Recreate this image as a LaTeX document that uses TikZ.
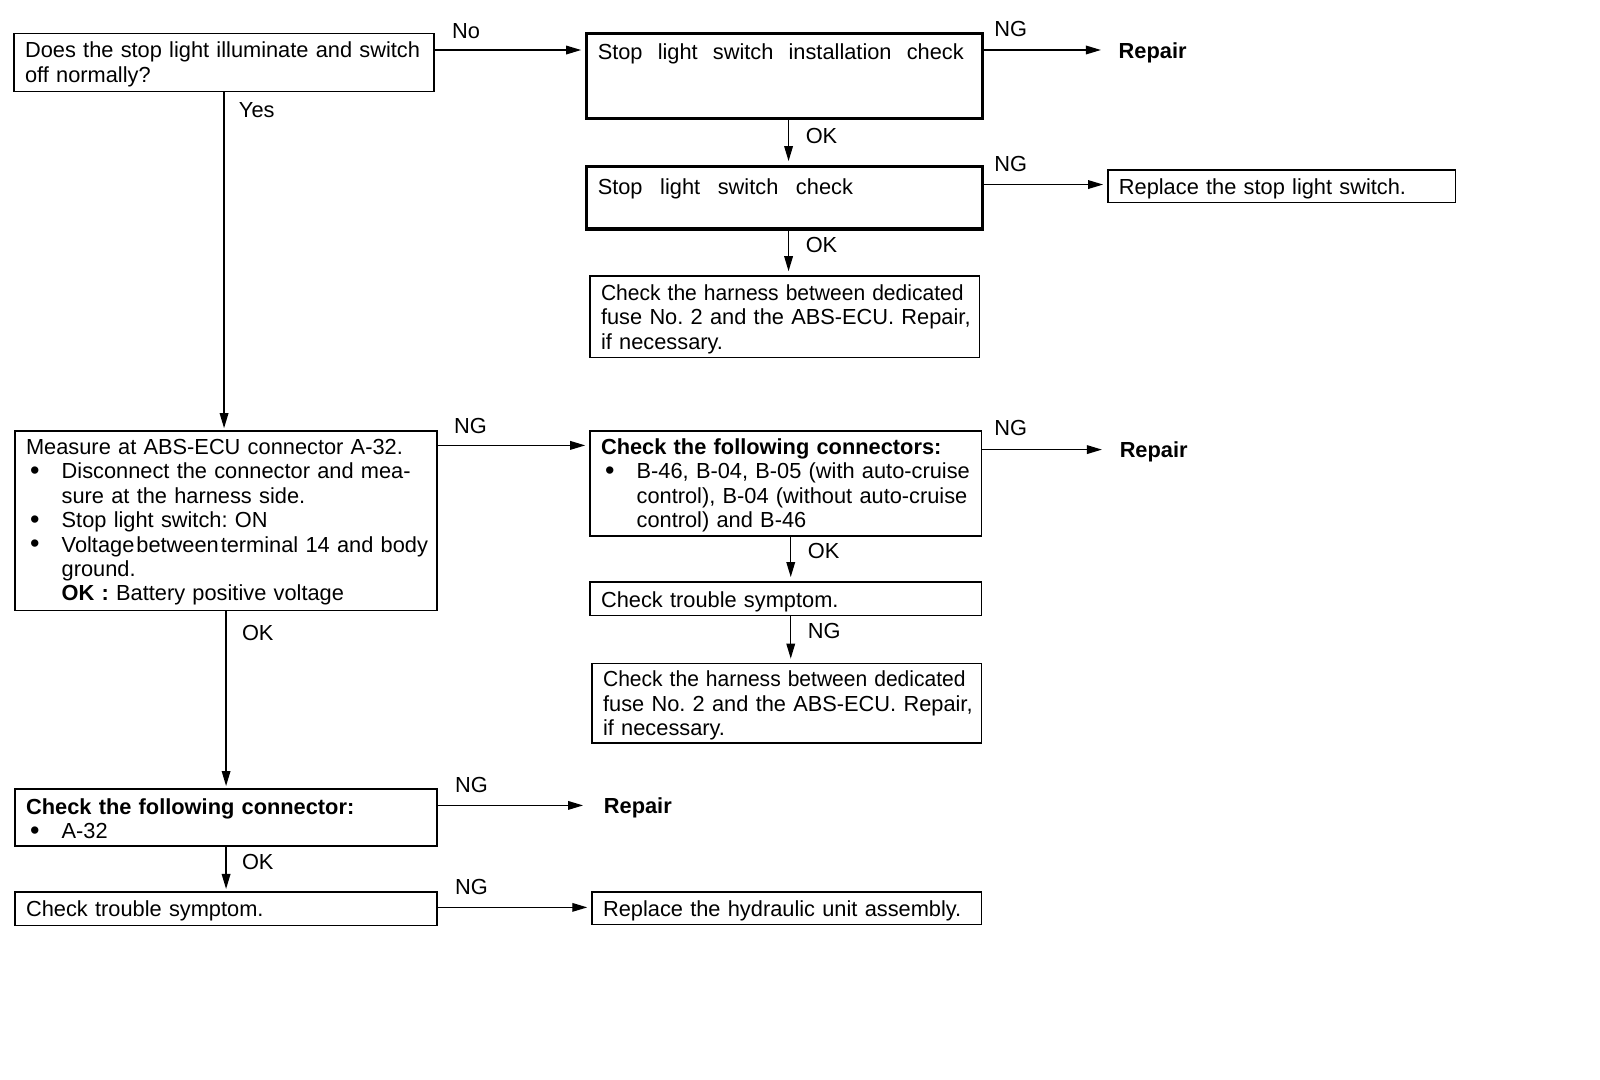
\documentclass[tikz,border=0pt]{standalone}
\usepackage{fontspec}
\usepackage{graphicx}
\setmainfont{Liberation Sans}
\usetikzlibrary{arrows.meta}
\setlength{\parindent}{0pt}
\frenchspacing
\newcommand{\jl}[1]{\leavevmode\hbox to\linewidth{#1}}
\newcommand{\sqz}[1]{\leavevmode\scalebox{0.965}[1]{#1}}
\newcommand{\bul}{\makebox[17.8pt][l]{\hspace{2pt}\raisebox{-0.3pt}{\fontsize{13.5pt}{12pt}\selectfont •}}}
\newcommand{\ind}{\hspace*{17.8pt}}
\begin{document}
\begin{tikzpicture}[x=0.5097pt,y=-0.5097pt,
  every node/.style={font=\fontsize{10.9pt}{12.2pt}\selectfont},
  box/.style n args={3}{draw, line width=0.8pt, anchor=north west, inner xsep=5.5pt, inner ysep=0pt, align=left, text width=#1, text height=#2, text depth=#3},
  lbl/.style={inner sep=0pt, anchor=west, text height=7.8pt, text depth=0pt},
  rep/.style={lbl, font=\fontsize{10.9pt}{12.2pt}\selectfont\bfseries},
  arr/.style={line width=0.7pt, -{Triangle[length=7.5pt,width=4.3pt]}, shorten >=2pt}]
\fill[white] (0,0) rectangle (1569.5,1059.4);
\useasboundingbox (0,0) rectangle (1569.5,1059.4);

% boxes
\node[box={199pt}{12.2pt}{16.85pt}] (b1) at (13,32) {Does the stop light illuminate and switch\\off normally?};
\node[box={186.8pt}{13.25pt}{29.55pt}, line width=1.6pt] (b2) at (574,31) {\hbox to 183pt{Stop\hfill light\hfill switch\hfill installation\hfill check}};
\node[box={186.8pt}{13.75pt}{17.35pt}, line width=1.6pt] (b3) at (574,162) {\hbox to 127.6pt{Stop\hfill light\hfill switch\hfill check}};
\node[box={183.7pt}{12.2pt}{28.6pt}] (b4) at (578,270) {\sqz{Check the harness between dedicated}\\\jl{fuse No. 2 and the ABS-ECU. Repair,}\\if necessary.};
\node[box={200pt}{11.7pt}{78pt}] (b5) at (14,422) {\leavevmode\hbox to 194pt{Measure at ABS-ECU connector A-32.}\\
\jl{\bul Disconnect the connector and mea-}\\
\ind sure at the harness side.\\
\bul Stop light switch: ON\\
\jl{\bul Voltage\hspace{1pt}between\hspace{1pt}terminal 14 and body}\\
\ind ground.\\
\ind\textbf{OK :} Battery positive voltage};
\node[box={184.7pt}{11.7pt}{40.8pt}] (b6) at (578,422) {\textbf{Check the following connectors:}\\
\jl{\bul B-46, B-04, B-05 (with auto-cruise}\\
\jl{\ind control), B-04 (without auto-cruise}\\
\ind control) and B-46};
\node[box={184.7pt}{12.7pt}{4.1pt}] (b7) at (578,570) {Check trouble symptom.};
\node[box={183.7pt}{11.7pt}{28.1pt}] (b8) at (580,650) {\sqz{Check the harness between dedicated}\\\jl{fuse No. 2 and the ABS-ECU. Repair,}\\if necessary.};
\node[box={200pt}{12.7pt}{15.8pt}] (b9) at (14,773) {\textbf{Check the following connector:}\\\bul A-32};
\node[box={200pt}{12.2pt}{4.6pt}] (b10) at (14,874) {Check trouble symptom.};
\node[box={183.7pt}{12.2pt}{4.1pt}] (b11) at (580,874) {Replace the hydraulic unit assembly.};
\node[box={162.8pt}{12.2pt}{4.1pt}] (brep) at (1086,166) {Replace the stop light switch.};

\node[rep] (r1) at (1097,50) {Repair};
\node[rep] (r2) at (1098,441) {Repair};
\node[rep] (r3) at (592,790) {Repair};

% connectors
\coordinate (p1) at ([yshift=-8.7pt]b1.north east);
\draw[arr] (p1) -- (p1 -| b2.west);
\node[lbl] (l1) at (443,30) {No};

\coordinate (p2) at ([yshift=-9.2pt]b2.north east);
\draw[arr, shorten >=8.7pt] (p2) -- (p2 -| r1.west);
\node[lbl] (l2) at (975,28) {NG};

\coordinate (p3) at ([xshift=2pt]b2.south);
\draw[arr] (p3) -- (p3 |- b3.north);
\node[lbl] (l3) at (790,133) {OK};

\coordinate (p4) at ([yshift=-9.7pt]b3.north east);
\draw[arr] (p4) -- (p4 -| brep.west);
\node[lbl] (l4) at (975,161) {NG};

\coordinate (p5) at ([xshift=2pt]b3.south);
\draw[arr] (p5) -- (p5 |- b4.north);
\node[lbl] (l5) at (790,240) {OK};

\coordinate (p6) at (b1.south);
\draw[arr, shorten >=1pt] (p6) -- (p6 |- b5.north);
\node[lbl] (l6) at (234,108) {Yes};

\coordinate (p7) at ([yshift=-7.6pt]b5.north east);
\draw[arr] (p7) -- (p7 -| b6.west);
\node[lbl] (l7) at (445,418) {NG};

\coordinate (p8) at ([yshift=-9.7pt]b6.north east);
\draw[arr, shorten >=8.7pt] (p8) -- (p8 -| r2.west);
\node[lbl] (l8) at (975,420) {NG};

\coordinate (p9) at ([xshift=2.5pt]b6.south);
\draw[arr] (p9) -- (p9 |- b7.north);
\node[lbl] (l9) at (792,540) {OK};

\coordinate (p10) at ([xshift=2.5pt]b7.south);
\draw[arr] (p10) -- (p10 |- b8.north);
\node[lbl] (l10) at (792,619) {NG};

\coordinate (p11) at (b5.south);
\draw[arr, shorten >=1pt] (p11) -- (p11 |- b9.north);
\node[lbl] (l11) at (237,621) {OK};

\coordinate (p12) at ([yshift=-8.7pt]b9.north east);
\draw[arr, shorten >=10.2pt] (p12) -- (p12 -| r3.west);
\node[lbl] (l12) at (446,770) {NG};

\coordinate (p13) at (b9.south);
\draw[arr, shorten >=1pt] (p13) -- (p13 |- b10.north);
\node[lbl] (l13) at (237,845) {OK};

\coordinate (p14) at ([yshift=-8.2pt]b10.north east);
\draw[arr] (p14) -- (p14 -| b11.west);
\node[lbl] (l14) at (446,870) {NG};
\end{tikzpicture}
\end{document}
